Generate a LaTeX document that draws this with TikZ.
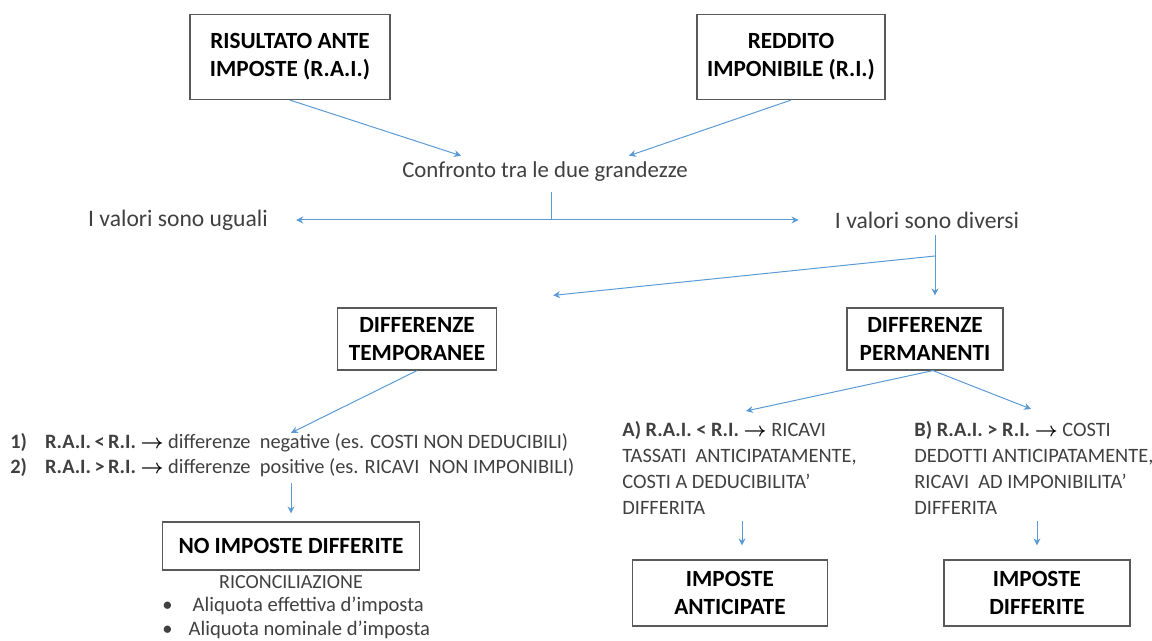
\documentclass[tikz,border=0pt]{standalone}
\usepackage{fontspec}
\setmainfont{Carlito}
\usepackage{tikz}
\usetikzlibrary{arrows.meta,calc,positioning}
\definecolor{freccia}{HTML}{5B9BD5}
\definecolor{bordo}{HTML}{595959}
\definecolor{testo}{HTML}{404040}
\begin{document}
\begin{tikzpicture}[x=0.5pt,y=-0.5pt,>={Stealth[length=3.5pt,width=3.5pt]},
  font=\fontsize{11.8}{14}\selectfont,
  box/.style={draw=bordo,line width=0.6pt,align=center,font=\fontsize{11.6}{14}\selectfont\bfseries,inner sep=2pt},
  txt/.style={text=testo,align=left,inner sep=2pt},
  arr/.style={->,freccia,line width=0.5pt}]
\useasboundingbox (0,0) rectangle (1152,641);
% in alto
\node[box,minimum width=100pt,minimum height=42.5pt] (rai) at (290,57) {RISULTATO ANTE\\IMPOSTE (R.A.I.)};
\node[box,minimum width=94pt,minimum height=42.5pt] (ri) at (791,57) {REDDITO\\IMPONIBILE (R.I.)};
\node[txt,font=\fontsize{11.4}{14}\selectfont] (conf) at (545,172) {Confronto tra le due grandezze};
\draw[arr] (rai.south) -- ([xshift=-42pt,yshift=1pt]conf.north);
\draw[arr] (ri.south) -- ([xshift=42pt,yshift=1pt]conf.north);
% valori
\node[txt] (uguali) at (178,220) {I valori sono uguali};
\node[txt] (diversi) at (927,220) {I valori sono diversi};
\coordinate (split) at (551,220);
\draw[freccia,line width=0.5pt] ([yshift=-3pt]conf.south -| split) -- (split);
\draw[arr,shorten >=12pt] (split) -- (uguali.east);
\draw[arr,shorten >=16pt] (split) -- (diversi.west);
% differenze
\node[box,minimum width=79.5pt,minimum height=31pt] (dt) at (417,339) {DIFFERENZE\\TEMPORANEE};
\node[box,minimum width=78pt,minimum height=31pt] (dp) at (925,339) {DIFFERENZE\\PERMANENTI};
\coordinate (fork) at (935,256);
\draw[arr,shorten >=6pt] ([yshift=-1pt]diversi.south -| fork) -- (fork |- dp.north);
\draw[arr] (fork) -- ([xshift=28pt,yshift=6pt]dt.north east);
% differenze temporanee
\node[txt,anchor=west,font=\fontsize{10.2}{12.5}\selectfont] (lista) at (6,455) {\textbf{1)}\hspace{9pt}\textbf{R.A.I.\,<\,R.I.} {\color{black}\boldmath$\rightarrow$} differenze\ \ negative (es. COSTI NON DEDUCIBILI)\\
  \textbf{2)}\hspace{9pt}\textbf{R.A.I.\,>\,R.I.} {\color{black}\boldmath$\rightarrow$} differenze\ \ positive (es. RICAVI\ \ NON IMPONIBILI)};
\node[box,minimum width=128.5pt,minimum height=24pt] (noimp) at (291,546) {NO IMPOSTE DIFFERITE};
\draw[arr] (dt.south) -- ([yshift=-2pt]lista.north -| noimp.north);
\draw[arr,shorten >=4pt] ([yshift=-1pt]lista.south -| noimp.north) -- (noimp.north);
\node[txt,font=\fontsize{10}{12}\selectfont] (ric) at (291,582) {RICONCILIAZIONE};
\node[txt,anchor=west,font=\fontsize{10.3}{12}\selectfont] (punti) at (158,618) {•\hspace{10pt}Aliquota effettiva d’imposta\\•\hspace{8pt}Aliquota nominale d’imposta};
% differenze permanenti
\node[txt,anchor=north west,font=\fontsize{10.2}{13}\selectfont] (atext) at (618,417) {\textbf{A) R.A.I. < R.I.} {\color{black}\boldmath$\rightarrow$} RICAVI\\TASSATI\ \ ANTICIPATAMENTE,\\COSTI A DEDUCIBILITA’\\DIFFERITA};
\node[txt,anchor=north west,font=\fontsize{10.2}{13}\selectfont] (btext) at (910,417) {\textbf{B) R.A.I. > R.I.} {\color{black}\boldmath$\rightarrow$} COSTI\\DEDOTTI ANTICIPATAMENTE,\\RICAVI\ \ AD IMPONIBILITA’\\DIFFERITA};
\node[box,minimum width=97.5pt,minimum height=33pt] (ia) at (730,593) {IMPOSTE\\ANTICIPATE};
\node[box,minimum width=93pt,minimum height=33pt] (id) at (1037,593) {IMPOSTE\\DIFFERITE};
\draw[arr] ([xshift=4pt]dp.south) -- ([xshift=8pt,yshift=3pt]atext.north -| ia.north);
\draw[arr] ([xshift=4pt]dp.south) -- ([xshift=-3pt,yshift=4pt]btext.north -| id.north);
\draw[arr,shorten <=1pt,shorten >=7pt] ([xshift=6pt]atext.south -| ia.north) -- ([xshift=6pt]ia.north);
\draw[arr,shorten <=1pt,shorten >=7pt] (btext.south -| id.north) -- (id.north);
\end{tikzpicture}
\end{document}
